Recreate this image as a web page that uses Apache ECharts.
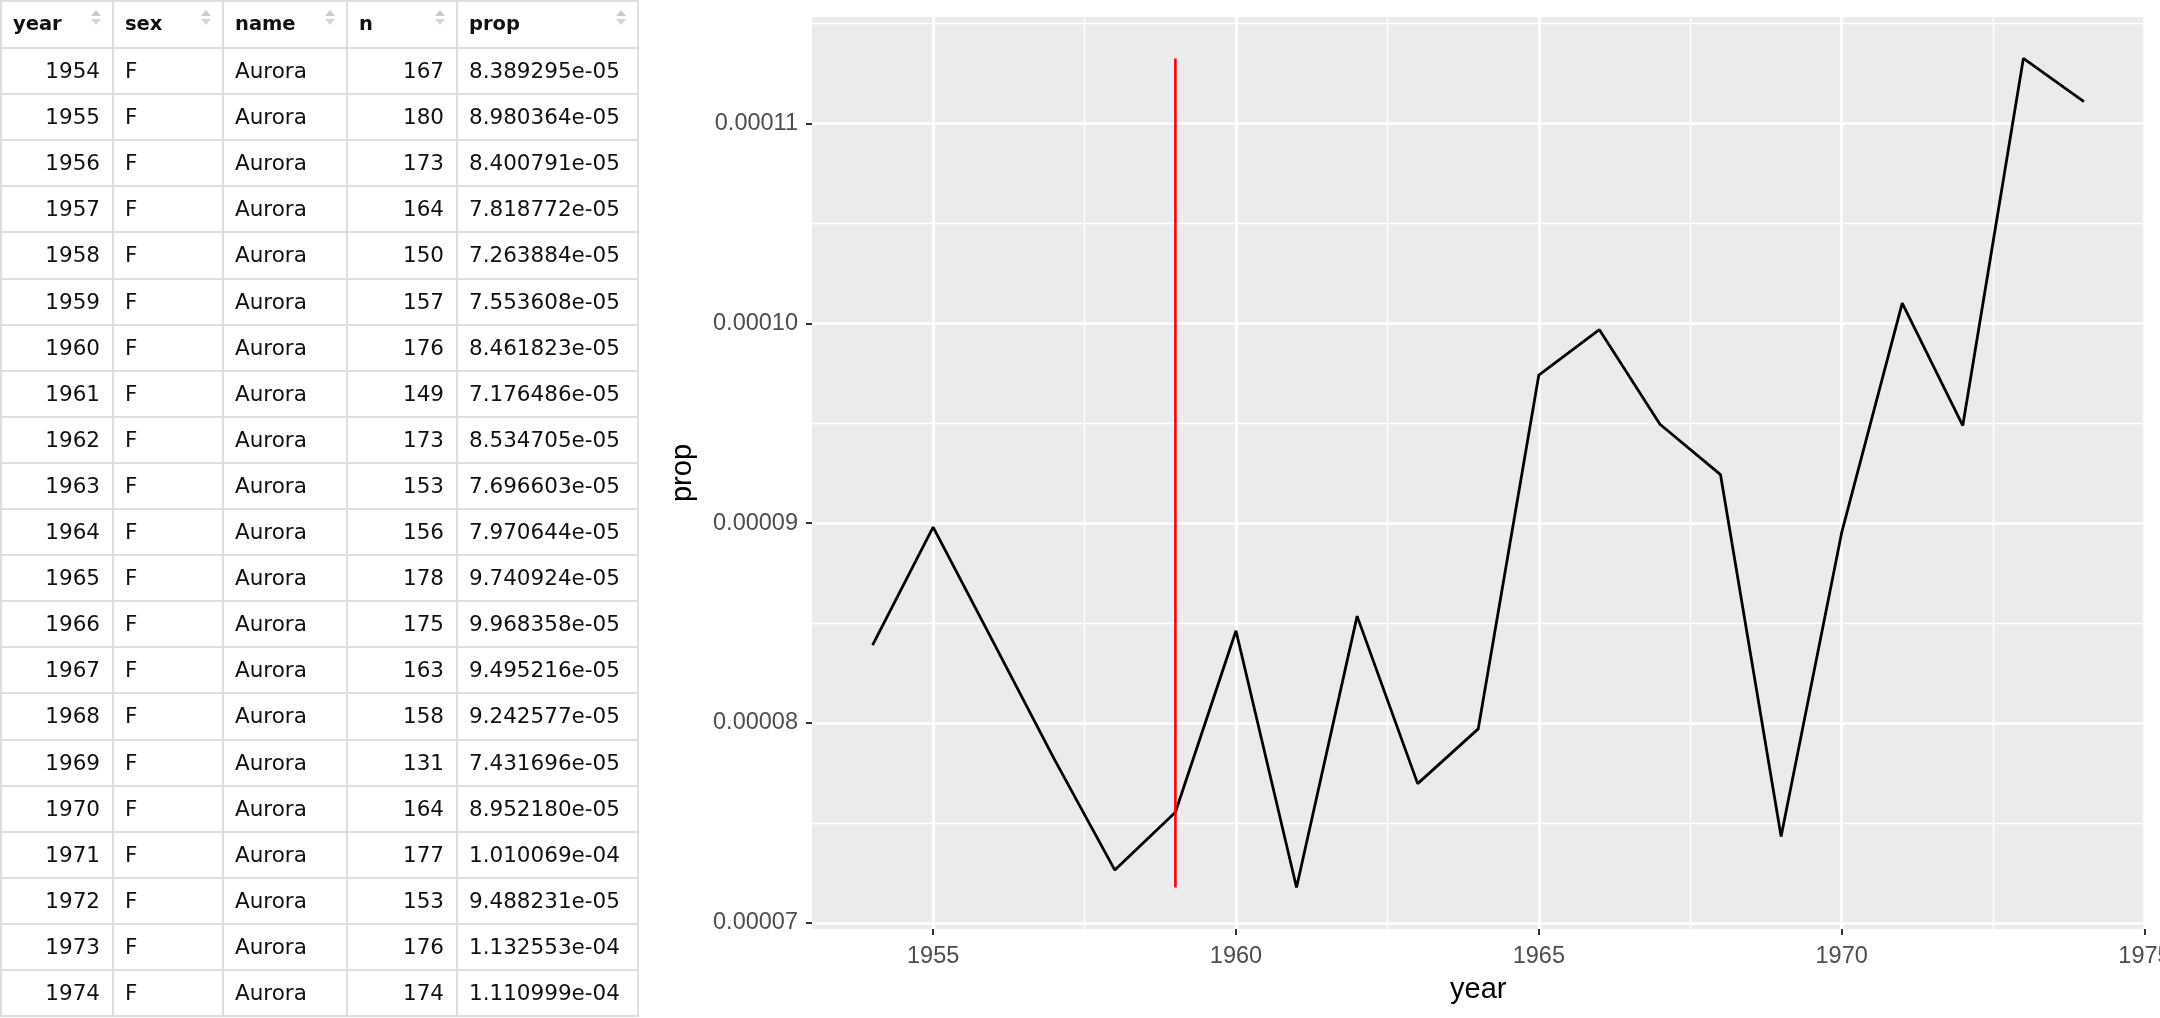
<!DOCTYPE html>
<html>
<head>
<meta charset="utf-8">
<script src="https://cdn.jsdelivr.net/npm/echarts@6/dist/echarts.min.js"></script>
<style>
  html, body { margin: 0; padding: 0; background: #ffffff; overflow: hidden; width: 2160px; height: 1018px; }
  #chart { position: absolute; left: 0; top: 0; width: 2160px; height: 1018px; }
  #table { position: absolute; left: 0; top: 0; width: 640px; height: 1018px; font-family: "DejaVu Sans", sans-serif; color: #111; overflow: hidden; }
  .hl { position: absolute; height: 2px; background: #DCDEE2; }
  .vl { position: absolute; width: 2px; background: #DCDEE2; }
  .cell { position: absolute; white-space: nowrap; line-height: 1; }
  .hdr { font-weight: bold; font-size: 19.5px; }
  .dat { font-size: 21.5px; }
  .up { position: absolute; width: 0; height: 0; border-left: 5px solid transparent; border-right: 5px solid transparent; border-bottom: 6px solid #C9CBCE; }
  .dn { position: absolute; width: 0; height: 0; border-left: 5px solid transparent; border-right: 5px solid transparent; border-top: 6px solid #D3D5D8; }
</style>
</head>
<body>
<div id="chart"></div>
<div id="table"></div>
<script>
// ---- data ----
const columns = ["year", "sex", "name", "n", "prop"];
const years = [1954, 1955, 1956, 1957, 1958, 1959, 1960, 1961, 1962, 1963, 1964, 1965, 1966, 1967, 1968, 1969, 1970, 1971, 1972, 1973, 1974];
const sexes = ["F", "F", "F", "F", "F", "F", "F", "F", "F", "F", "F", "F", "F", "F", "F", "F", "F", "F", "F", "F", "F"];
const names = ["Aurora", "Aurora", "Aurora", "Aurora", "Aurora", "Aurora", "Aurora", "Aurora", "Aurora", "Aurora", "Aurora", "Aurora", "Aurora", "Aurora", "Aurora", "Aurora", "Aurora", "Aurora", "Aurora", "Aurora", "Aurora"];
const counts = [167, 180, 173, 164, 150, 157, 176, 149, 173, 153, 156, 178, 175, 163, 158, 131, 164, 177, 153, 176, 174];
const props = [8.389295e-05, 8.980364e-05, 8.400791e-05, 7.818772e-05, 7.263884e-05, 7.553608e-05, 8.461823e-05, 7.176486e-05, 8.534705e-05, 7.696603e-05, 7.970644e-05, 9.740924e-05, 9.968358e-05, 9.495216e-05, 9.242577e-05, 7.431696e-05, 8.952180e-05, 1.010069e-04, 9.488231e-05, 1.132553e-04, 1.110999e-04];
const markerYear = 1959;

const xTicks = [1955, 1960, 1965, 1970, 1975];
const xTickLabels = ["1955", "1960", "1965", "1970", "1975"];
const xMinorTicks = [1957.5, 1962.5, 1967.5, 1972.5];
const yTicks = [0.00007, 0.00008, 0.00009, 0.00010, 0.00011];
const yTickLabels = ["0.00007", "0.00008", "0.00009", "0.00010", "0.00011"];
const yMinorTicks = [0.000075, 0.000085, 0.000095, 0.000105, 0.000115];

// ---- table ----
function fmtExp(v) {
  const s = v.toExponential(6);
  return s.replace(/e([+-])(\d)$/, "e$10$2");
}
(function buildTable() {
  const t = document.getElementById("table");
  const colX = [0, 112, 222, 346, 456, 637];
  const headerH = 48, rowH = 46.1;
  const align = ["right", "left", "left", "right", "left"];
  const rowsY = [0, headerH];
  for (let k = 1; k <= years.length; k++) rowsY.push(headerH + k * rowH);
  const total = rowsY[rowsY.length - 1];
  rowsY.forEach(y => {
    const d = document.createElement("div");
    d.className = "hl";
    d.style.left = "0px"; d.style.width = (colX[colX.length - 1] + 2) + "px";
    d.style.top = (y === 0 ? 0 : y - 1) + "px";
    t.appendChild(d);
  });
  colX.forEach(x => {
    const d = document.createElement("div");
    d.className = "vl";
    d.style.left = x + "px"; d.style.top = "0px"; d.style.height = (total + 1) + "px";
    t.appendChild(d);
  });
  function addCell(text, c, top, h, cls, al) {
    const d = document.createElement("div");
    d.className = "cell " + cls;
    d.textContent = text;
    d.style.top = (top + h / 2) + "px";
    d.style.transform = "translateY(-50%)";
    if (al === "right") {
      d.style.right = (640 - colX[c + 1] + 12) + "px";
    } else {
      d.style.left = (colX[c] + 13) + "px";
    }
    t.appendChild(d);
  }
  columns.forEach((name, c) => {
    addCell(name, c, 0, headerH, "hdr", "left");
    const ax = colX[c + 1] - 21;
    const u = document.createElement("div"); u.className = "up"; u.style.left = ax + "px"; u.style.top = "10px"; t.appendChild(u);
    const dn = document.createElement("div"); dn.className = "dn"; dn.style.left = ax + "px"; dn.style.top = "19px"; t.appendChild(dn);
  });
  years.forEach((yr, i) => {
    const top = headerH + i * rowH;
    const vals = [String(yr), sexes[i], names[i], String(counts[i]), fmtExp(props[i])];
    vals.forEach((v, c) => addCell(v, c, top, rowH, "dat", align[c]));
  });
})();

// ---- chart ----
const pMin = Math.min(...props), pMax = Math.max(...props);
const yPad = (pMax - pMin) * 0.05;
const yMin = pMin - yPad, yMax = pMax + yPad;
const yrMin = Math.min(...years), yrMax = Math.max(...years);
const xPad = (yrMax - yrMin) * 0.05;
const xMin = yrMin - xPad, xMax = yrMax + xPad;

function labelFor(ticks, labels, v) {
  for (let i = 0; i < ticks.length; i++) {
    if (Math.abs(ticks[i] - v) < Math.abs(ticks[1] - ticks[0]) * 1e-6) return labels[i];
  }
  return "";
}

const chart = echarts.init(document.getElementById("chart"), null, { renderer: "canvas", width: 2160, height: 1018 });
const font = "Liberation Sans";
const gridLines = [];
xTicks.forEach(v => gridLines.push({ xAxis: v, lineStyle: { color: "#FFFFFF", width: 2.6, type: "solid" } }));
xMinorTicks.forEach(v => gridLines.push({ xAxis: v, lineStyle: { color: "#FFFFFF", width: 1.3, type: "solid" } }));
yTicks.forEach(v => gridLines.push({ yAxis: v, lineStyle: { color: "#FFFFFF", width: 2.6, type: "solid" } }));
yMinorTicks.forEach(v => gridLines.push({ yAxis: v, lineStyle: { color: "#FFFFFF", width: 1.3, type: "solid" } }));

chart.setOption({
  animation: false,
  backgroundColor: "#FFFFFF",
  textStyle: { fontFamily: font },
  grid: { left: 812, right: 15.5, top: 17, bottom: 89, show: true, backgroundColor: "#EBEBEB", borderWidth: 0,
    outerBoundsMode: "none", containLabel: false },
  xAxis: {
    type: "value", min: xMin, max: xMax,
    axisLine: { show: false },
    axisTick: { show: true, customValues: xTicks, length: 6, lineStyle: { color: "#333333", width: 2 } },
    axisLabel: { customValues: xTicks, margin: 16, fontSize: 23.5, color: "#4D4D4D", fontFamily: font,
      hideOverlap: false, formatter: v => labelFor(xTicks, xTickLabels, v) },
    splitLine: { show: false },
    name: "year", nameLocation: "middle", nameGap: 46,
    nameTextStyle: { fontSize: 29, color: "#000000", fontFamily: font }
  },
  yAxis: {
    type: "value", min: yMin, max: yMax,
    axisLine: { show: false },
    axisTick: { show: true, customValues: yTicks, length: 6, lineStyle: { color: "#333333", width: 2 } },
    axisLabel: { customValues: yTicks, margin: 14, fontSize: 23.5, color: "#4D4D4D", fontFamily: font,
      formatter: v => labelFor(yTicks, yTickLabels, v) },
    splitLine: { show: false },
    name: "prop", nameLocation: "middle", nameGap: 115, nameRotate: 90,
    nameTextStyle: { fontSize: 29, color: "#000000", fontFamily: font }
  },
  series: [
    {
      type: "line", name: "prop", z: 3,
      data: years.map((y, i) => [y, props[i]]),
      showSymbol: false, symbol: "none",
      lineStyle: { color: "#000000", width: 2.8 },
      itemStyle: { color: "#000000" },
      markLine: { z: 1, silent: true, precision: 12, symbol: ["none", "none"], label: { show: false }, animation: false, data: gridLines }
    },
    {
      type: "line", name: "marker", z: 4,
      data: [[markerYear, pMin], [markerYear, pMax]],
      showSymbol: false, symbol: "none",
      lineStyle: { color: "#FF0000", width: 2.6 },
      itemStyle: { color: "#FF0000" }
    }
  ]
});
</script>
</body>
</html>
